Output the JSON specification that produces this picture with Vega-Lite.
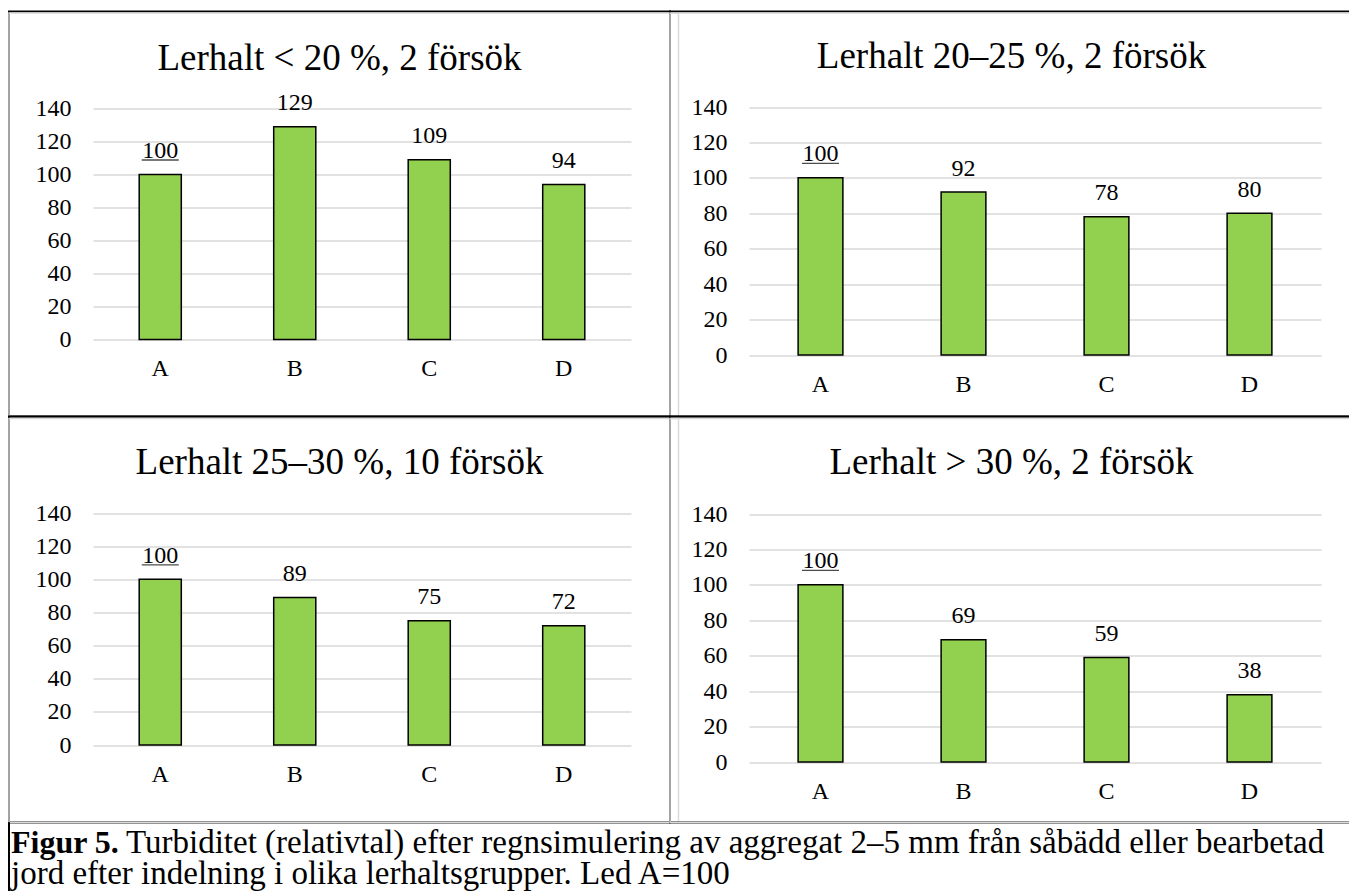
{
  "$schema": "https://vega.github.io/schema/vega-lite/v6.json",
  "background": "white",
  "padding": {"left": 7, "top": 10.5, "right": -4, "bottom": -7.5},
  "columns": 2,
  "spacing": 0,
  "bounds": "flush",
  "align": "each",
  "datasets": {
    "turbiditet": [
      {"lerhalt": "< 20 %", "forsok": 2, "led": "A", "turbiditet": 100},
      {"lerhalt": "< 20 %", "forsok": 2, "led": "B", "turbiditet": 129},
      {"lerhalt": "< 20 %", "forsok": 2, "led": "C", "turbiditet": 109},
      {"lerhalt": "< 20 %", "forsok": 2, "led": "D", "turbiditet": 94},
      {"lerhalt": "20–25 %", "forsok": 2, "led": "A", "turbiditet": 100},
      {"lerhalt": "20–25 %", "forsok": 2, "led": "B", "turbiditet": 92},
      {"lerhalt": "20–25 %", "forsok": 2, "led": "C", "turbiditet": 78},
      {"lerhalt": "20–25 %", "forsok": 2, "led": "D", "turbiditet": 80},
      {"lerhalt": "25–30 %", "forsok": 10, "led": "A", "turbiditet": 100},
      {"lerhalt": "25–30 %", "forsok": 10, "led": "B", "turbiditet": 89},
      {"lerhalt": "25–30 %", "forsok": 10, "led": "C", "turbiditet": 75},
      {"lerhalt": "25–30 %", "forsok": 10, "led": "D", "turbiditet": 72},
      {"lerhalt": "> 30 %", "forsok": 2, "led": "A", "turbiditet": 100},
      {"lerhalt": "> 30 %", "forsok": 2, "led": "B", "turbiditet": 69},
      {"lerhalt": "> 30 %", "forsok": 2, "led": "C", "turbiditet": 59},
      {"lerhalt": "> 30 %", "forsok": 2, "led": "D", "turbiditet": 38}
    ],
    "figurtext": [
      {"rad": 1, "del": "rubrik", "text": "Figur 5."},
      {"rad": 1, "del": "text", "text": "Turbiditet (relativtal) efter regnsimulering av aggregat 2–5 mm från såbädd eller bearbetad"},
      {"rad": 2, "del": "text", "text": "jord efter indelning i olika lerhaltsgrupper. Led A=100"}
    ]
  },
  "config": {
    "font": "Liberation Serif",
    "view": {"stroke": "#000", "strokeWidth": 2},
    "title": {"font": "Liberation Serif", "fontSize": 37, "fontWeight": "normal", "color": "#000", "anchor": "middle", "baseline": "middle", "frame": "group"},
    "axis": {"labelFont": "Liberation Serif", "labelFontSize": 24, "labelColor": "#000", "domain": false, "ticks": false},
    "axisY": {"grid": true, "gridColor": "#d9d9d9", "gridWidth": 1.5, "labelPadding": 22},
    "axisX": {"grid": false, "labelAngle": 0, "labelBaseline": "middle", "labelPadding": 29},
    "text": {"font": "Liberation Serif", "color": "#000"}
  },
  "concat": [
    {
      "width": 661, "height": 405,
      "title": {"text": "Lerhalt < 20 %, 2 försök", "offset": -66.5},
      "data": {"name": "turbiditet"},
      "transform": [{"filter": "datum.lerhalt === '< 20 %'"}],
      "layer": [
        {"transform": [{"filter": "datum.led === 'A'"}],
         "mark": {"type": "rect", "fill": null, "stroke": "#d9d9d9", "strokeWidth": 1.5, "xOffset": 8.5, "x2Offset": -9.5, "yOffset": 1.5, "y2Offset": -20.5},
         "encoding": {}},
        {"mark": {"type": "bar", "fill": "#92d050", "stroke": "#000", "strokeWidth": 1.5},
         "encoding": {
           "x": {"field": "led", "type": "nominal", "title": null, "scale": {"range": [84, 622], "paddingInner": 0.687, "paddingOuter": 0.3435}, "axis": {"offset": -77}},
           "y": {"field": "turbiditet", "type": "quantitative", "title": null, "scale": {"domain": [0, 140], "nice": false, "range": [328, 97]}, "axis": {"offset": -84, "values": [0, 20, 40, 60, 80, 100, 120, 140]}}}},
        {"mark": {"type": "text", "font": "Liberation Serif", "baseline": "alphabetic", "dy": -16.5, "fontSize": 24},
         "encoding": {"x": {"field": "led", "type": "nominal"}, "y": {"field": "turbiditet", "type": "quantitative"}, "text": {"field": "turbiditet", "type": "quantitative"}}},
        {"transform": [{"filter": "datum.led === 'A'"}],
         "mark": {"type": "tick", "color": "#000", "thickness": 1.3, "size": 37, "yOffset": -14.5},
         "encoding": {"x": {"field": "led", "type": "nominal"}, "y": {"field": "turbiditet", "type": "quantitative"}}}
      ]
    },
    {
      "width": 683, "height": 405,
      "title": {"text": "Lerhalt 20–25 %, 2 försök", "offset": -64.5},
      "data": {"name": "turbiditet"},
      "transform": [{"filter": "datum.lerhalt === '20–25 %'"}],
      "layer": [
        {"transform": [{"filter": "datum.led === 'A'"}],
         "mark": {"type": "rect", "fill": null, "stroke": "#d9d9d9", "strokeWidth": 1.5, "xOffset": 8, "x2Offset": -6.5, "yOffset": 1.5, "y2Offset": -3.5},
         "encoding": {}},
        {"mark": {"type": "bar", "fill": "#92d050", "stroke": "#000", "strokeWidth": 1.5},
         "encoding": {
           "x": {"field": "led", "type": "nominal", "title": null, "scale": {"range": [79, 651], "paddingInner": 0.687, "paddingOuter": 0.3435}, "axis": {"offset": -61.5}},
           "y": {"field": "turbiditet", "type": "quantitative", "title": null, "scale": {"domain": [0, 140], "nice": false, "range": [343.5, 95.5]}, "axis": {"offset": -79, "values": [0, 20, 40, 60, 80, 100, 120, 140]}}}},
        {"mark": {"type": "text", "font": "Liberation Serif", "baseline": "alphabetic", "dy": -16.5, "fontSize": 24},
         "encoding": {"x": {"field": "led", "type": "nominal"}, "y": {"field": "turbiditet", "type": "quantitative"}, "text": {"field": "turbiditet", "type": "quantitative"}}},
        {"transform": [{"filter": "datum.led === 'A'"}],
         "mark": {"type": "tick", "color": "#000", "thickness": 1.3, "size": 37, "yOffset": -14.5},
         "encoding": {"x": {"field": "led", "type": "nominal"}, "y": {"field": "turbiditet", "type": "quantitative"}}}
      ]
    },
    {
      "width": 661, "height": 406,
      "title": {"text": "Lerhalt 25–30 %, 10 försök", "offset": -65.5},
      "data": {"name": "turbiditet"},
      "transform": [{"filter": "datum.lerhalt === '25–30 %'"}],
      "layer": [
        {"transform": [{"filter": "datum.led === 'A'"}],
         "mark": {"type": "rect", "fill": null, "stroke": "#d9d9d9", "strokeWidth": 1.5, "xOffset": 8.5, "x2Offset": -9.5, "yOffset": 2, "y2Offset": -19.5},
         "encoding": {}},
        {"mark": {"type": "bar", "fill": "#92d050", "stroke": "#000", "strokeWidth": 1.5},
         "encoding": {
           "x": {"field": "led", "type": "nominal", "title": null, "scale": {"range": [84, 622], "paddingInner": 0.687, "paddingOuter": 0.3435}, "axis": {"offset": -77.5}},
           "y": {"field": "turbiditet", "type": "quantitative", "title": null, "scale": {"domain": [0, 140], "nice": false, "range": [328.5, 96.5]}, "axis": {"offset": -84, "values": [0, 20, 40, 60, 80, 100, 120, 140]}}}},
        {"mark": {"type": "text", "font": "Liberation Serif", "baseline": "alphabetic", "dy": -16.5, "fontSize": 24},
         "encoding": {"x": {"field": "led", "type": "nominal"}, "y": {"field": "turbiditet", "type": "quantitative"}, "text": {"field": "turbiditet", "type": "quantitative"}}},
        {"transform": [{"filter": "datum.led === 'A'"}],
         "mark": {"type": "tick", "color": "#000", "thickness": 1.3, "size": 37, "yOffset": -14.5},
         "encoding": {"x": {"field": "led", "type": "nominal"}, "y": {"field": "turbiditet", "type": "quantitative"}}}
      ]
    },
    {
      "width": 683, "height": 406,
      "title": {"text": "Lerhalt > 30 %, 2 försök", "offset": -65.5},
      "data": {"name": "turbiditet"},
      "transform": [{"filter": "datum.lerhalt === '> 30 %'"}],
      "layer": [
        {"transform": [{"filter": "datum.led === 'A'"}],
         "mark": {"type": "rect", "fill": null, "stroke": "#d9d9d9", "strokeWidth": 1.5, "xOffset": 8, "x2Offset": -6.5, "yOffset": 2, "y2Offset": -3.7},
         "encoding": {}},
        {"mark": {"type": "bar", "fill": "#92d050", "stroke": "#000", "strokeWidth": 1.5},
         "encoding": {
           "x": {"field": "led", "type": "nominal", "title": null, "scale": {"range": [79, 651], "paddingInner": 0.687, "paddingOuter": 0.3435}, "axis": {"offset": -60.5}},
           "y": {"field": "turbiditet", "type": "quantitative", "title": null, "scale": {"domain": [0, 140], "nice": false, "range": [345.5, 97.5]}, "axis": {"offset": -79, "values": [0, 20, 40, 60, 80, 100, 120, 140]}}}},
        {"mark": {"type": "text", "font": "Liberation Serif", "baseline": "alphabetic", "dy": -16.5, "fontSize": 24},
         "encoding": {"x": {"field": "led", "type": "nominal"}, "y": {"field": "turbiditet", "type": "quantitative"}, "text": {"field": "turbiditet", "type": "quantitative"}}},
        {"transform": [{"filter": "datum.led === 'A'"}],
         "mark": {"type": "tick", "color": "#000", "thickness": 1.3, "size": 37, "yOffset": -14.5},
         "encoding": {"x": {"field": "led", "type": "nominal"}, "y": {"field": "turbiditet", "type": "quantitative"}}}
      ]
    },
    {
      "width": 661, "height": 75,
      "view": {"stroke": null},
      "data": {"name": "figurtext"},
      "layer": [
        {"mark": {"type": "rule", "color": "#000", "strokeWidth": 2},
         "encoding": {"x": {"datum": 0, "type": "quantitative", "scale": {"domain": [0, 1], "range": [0, 1340]}, "axis": null}}},
        {"transform": [{"filter": "datum.del === 'rubrik'"}],
         "mark": {"type": "text", "font": "Liberation Serif", "align": "left", "baseline": "middle", "fontSize": 32, "fontWeight": "bold", "dx": 2},
         "encoding": {
           "x": {"datum": 0, "type": "quantitative"},
           "y": {"field": "rad", "type": "ordinal", "scale": {"type": "point", "range": [20.5, 51.5], "padding": 0}, "axis": null},
           "text": {"field": "text"}}},
        {"transform": [{"filter": "datum.del === 'text' && datum.rad === 1"}],
         "mark": {"type": "text", "font": "Liberation Serif", "align": "left", "baseline": "middle", "fontSize": 33, "dx": 117},
         "encoding": {
           "x": {"datum": 0, "type": "quantitative"},
           "y": {"field": "rad", "type": "ordinal"},
           "text": {"field": "text"}}},
        {"transform": [{"filter": "datum.rad === 2"}],
         "mark": {"type": "text", "font": "Liberation Serif", "align": "left", "baseline": "middle", "fontSize": 33, "dx": 2},
         "encoding": {
           "x": {"datum": 0, "type": "quantitative"},
           "y": {"field": "rad", "type": "ordinal"},
           "text": {"field": "text"}}}
      ]
    }
  ]
}
